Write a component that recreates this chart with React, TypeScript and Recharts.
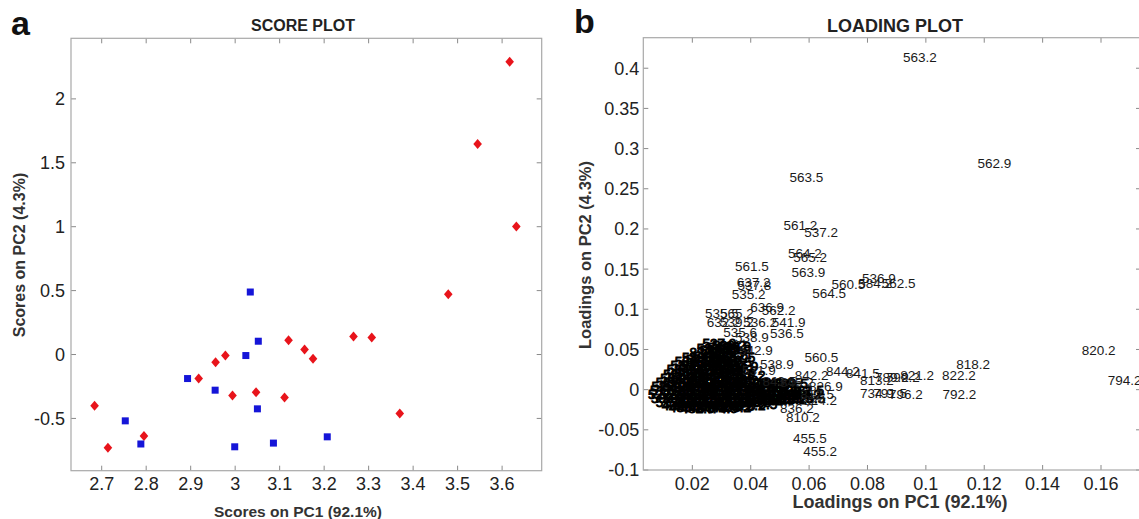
import React from "react";
import { ScatterChart, Scatter, XAxis, YAxis } from "recharts";

// ---------- Panel a: score plot ----------
const redScores: [number, number][] = [
  [3.617, 2.29], [3.545, 1.648], [3.632, 1.002], [3.479, 0.471],
  [3.266, 0.14], [3.307, 0.133], [3.12, 0.112], [3.156, 0.039],
  [3.175, -0.034], [2.978, -0.008], [2.956, -0.06], [2.918, -0.188],
  [2.994, -0.32], [3.047, -0.295], [3.111, -0.336], [3.37, -0.461],
  [2.684, -0.4], [2.714, -0.73], [2.795, -0.638],
];
const blueScores: [number, number][] = [
  [3.034, 0.489], [3.052, 0.104], [3.024, -0.008], [2.893, -0.188],
  [2.955, -0.279], [3.05, -0.425], [2.753, -0.519], [2.788, -0.7],
  [2.999, -0.722], [3.086, -0.693], [3.207, -0.644],
];
const scoreXTicks = [2.7, 2.8, 2.9, 3, 3.1, 3.2, 3.3, 3.4, 3.5, 3.6];
const scoreYTicks = [-0.5, 0, 0.5, 1, 1.5, 2];
const scoreXDomain: [number, number] = [2.631, 3.689];
const scoreYDomain: [number, number] = [-0.909, 2.474];

// ---------- Panel b: loading plot ----------
const loadingPeaks: [number, number, string][] = [
  [0.0922, 0.4137, "563.2"], [0.1177, 0.2825, "562.9"], [0.0533, 0.265, "563.5"],
  [0.0512, 0.2049, "561.2"], [0.0583, 0.1958, "537.2"], [0.0528, 0.17, "564.2"],
  [0.0546, 0.165, "565.2"], [0.0346, 0.1538, "561.5"], [0.054, 0.1467, "563.9"],
  [0.0677, 0.131, "560.5"], [0.0768, 0.132, "584.2"], [0.0781, 0.139, "536.9"],
  [0.0849, 0.132, "562.5"], [0.0611, 0.1198, "564.5"], [0.0352, 0.1335, "637.2"],
  [0.0355, 0.13, "537.8"], [0.0335, 0.1189, "535.2"], [0.0398, 0.1027, "636.9"],
  [0.0438, 0.099, "562.2"], [0.0243, 0.0949, "535.5"], [0.0295, 0.0949, "565.2"],
  [0.0249, 0.0844, "632.2"], [0.0295, 0.0844, "539.2"], [0.0374, 0.0844, "536.2"],
  [0.0472, 0.0844, "541.9"], [0.0306, 0.072, "535.6"], [0.0346, 0.065, "538.9"],
  [0.0466, 0.07, "536.5"], [0.036, 0.049, "542.9"], [0.037, 0.0245, "531.9"],
  [0.0432, 0.0318, "538.9"], [0.0584, 0.04, "560.5"],
  [0.0551, 0.018, "842.2"], [0.0658, 0.023, "844.2"], [0.0726, 0.0206, "841.5"],
  [0.0774, 0.0118, "813.2"], [0.0826, 0.016, "789.2"], [0.0863, 0.016, "799.2"],
  [0.0774, -0.0044, "734.9"], [0.082, -0.0044, "791.5"], [0.0874, -0.006, "796.2"],
  [0.057, -0.005, "812.5"], [0.0521, -0.0339, "810.2"], [0.05, -0.023, "836.2"],
  [0.0545, -0.0608, "455.5"], [0.058, -0.0766, "455.2"], [0.1104, 0.0314, "818.2"],
  [0.0912, 0.018, "821.2"], [0.1055, 0.018, "822.2"], [0.1057, -0.0056, "792.2"],
  [0.1534, 0.0492, "820.2"], [0.1623, 0.0118, "794.2"],
  [0.044, 0.011, "843.5"], [0.05, 0.009, "845.2"], [0.06, 0.004, "826.9"],
  [0.058, -0.013, "824.2"],
];
const loadingCluster: [number, number, string][] = [
  [0.0235, 0.058, "537.9"], [0.0268, 0.056, "538.2"],
  [0.0215, 0.052, "533.5"], [0.025, 0.053, "540.5"], [0.0285, 0.054, "539.9"],
  [0.019, 0.047, "832.2"], [0.0225, 0.049, "540.2"], [0.0262, 0.046, "539.5"], [0.0285, 0.05, "535.9"],
  [0.0165, 0.041, "533.9"], [0.02, 0.042, "541.8"], [0.024, 0.041, "534.5"], [0.0275, 0.043, "538.6"], [0.03, 0.04, "537.5"],
  [0.014, 0.036, "536.2"], [0.0178, 0.038, "541.2"], [0.0215, 0.035, "539.9"], [0.0255, 0.037, "540.9"], [0.0288, 0.034, "538.5"],
  [0.0125, 0.03, "530.2"], [0.016, 0.031, "542.2"], [0.02, 0.029, "633.9"], [0.024, 0.031, "543.9"], [0.0275, 0.03, "532.5"], [0.031, 0.029, "544.9"],
  [0.0112, 0.025, "534.2"], [0.015, 0.026, "633.2"], [0.0188, 0.024, "542.5"], [0.0228, 0.027, "541.5"], [0.0262, 0.024, "539.2"], [0.0292, 0.026, "634.9"],
  [0.01, 0.019, "528.5"], [0.014, 0.02, "545.9"], [0.018, 0.019, "546.5"], [0.022, 0.021, "635.2"], [0.026, 0.019, "547.9"], [0.03, 0.02, "528.9"], [0.0335, 0.018, "548.2"],
  [0.009, 0.014, "531.2"], [0.0128, 0.015, "543.2"], [0.0168, 0.013, "532.9"], [0.0205, 0.015, "544.2"], [0.0245, 0.013, "545.5"], [0.0285, 0.015, "531.9"], [0.031, 0.012, "546.2"],
  [0.0075, 0.009, "527.2"], [0.0115, 0.01, "549.2"], [0.0155, 0.008, "525.9"], [0.0195, 0.01, "550.9"], [0.0235, 0.008, "524.5"], [0.0275, 0.01, "551.2"], [0.0315, 0.008, "521.9"], [0.0355, 0.009, "552.9"], [0.0395, 0.008, "519.5"], [0.0435, 0.009, "841.9"], [0.048, 0.008, "839.5"],
  [0.006, 0.004, "529.2"], [0.0098, 0.005, "530.5"], [0.0138, 0.003, "547.2"], [0.0178, 0.005, "548.9"], [0.0218, 0.003, "526.2"], [0.0258, 0.005, "549.5"], [0.0298, 0.003, "527.9"], [0.0338, 0.004, "550.2"], [0.0378, 0.003, "551.9"], [0.0418, 0.005, "842.9"], [0.0458, 0.003, "552.5"],
  [0.0055, -0.001, "517.2"], [0.0095, 0.0, "553.9"], [0.0135, -0.002, "515.9"], [0.0175, 0.0, "554.2"], [0.0215, -0.002, "514.5"], [0.0255, 0.0, "555.9"], [0.0295, -0.002, "513.2"], [0.0335, 0.0, "556.2"], [0.0375, -0.002, "511.5"], [0.0415, 0.0, "837.5"], [0.0455, -0.002, "835.9"], [0.0495, -0.001, "833.2"], [0.0535, 0.0, "831.5"],
  [0.0048, -0.006, "522.2"], [0.0088, -0.005, "523.9"], [0.0128, -0.007, "553.2"], [0.0168, -0.005, "554.5"], [0.0208, -0.007, "520.9"], [0.0248, -0.005, "555.2"], [0.0288, -0.007, "518.2"], [0.0328, -0.005, "556.9"], [0.0368, -0.007, "516.5"], [0.0408, -0.005, "840.5"], [0.0448, -0.007, "838.2"], [0.0488, -0.005, "836.9"], [0.0525, -0.006, "834.2"],
  [0.0058, -0.011, "509.5"], [0.0098, -0.01, "557.2"], [0.0138, -0.012, "507.9"], [0.0178, -0.01, "557.9"], [0.0218, -0.012, "505.2"], [0.0258, -0.01, "558.5"], [0.0298, -0.012, "503.5"], [0.0338, -0.01, "559.2"], [0.0378, -0.012, "501.9"], [0.0418, -0.01, "830.2"], [0.0458, -0.01, "829.5"], [0.0498, -0.011, "827.9"], [0.054, -0.01, "825.5"],
  [0.0075, -0.015, "512.2"], [0.0115, -0.016, "510.9"], [0.0155, -0.014, "508.2"], [0.0195, -0.016, "506.5"], [0.0235, -0.015, "504.2"], [0.0275, -0.016, "502.9"], [0.0315, -0.014, "500.2"], [0.0355, -0.016, "498.5"], [0.0395, -0.013, "496.2"], [0.0435, -0.013, "494.9"], [0.0475, -0.012, "828.2"],
  [0.0095, -0.019, "492.2"], [0.0135, -0.02, "490.5"], [0.0175, -0.019, "488.9"], [0.0215, -0.02, "484.2"], [0.0255, -0.019, "480.9"], [0.0295, -0.02, "476.5"], [0.0335, -0.019, "472.2"], [0.0375, -0.018, "470.5"],
  [0.012, -0.022, "486.2"], [0.016, -0.023, "482.5"], [0.02, -0.022, "478.2"], [0.024, -0.023, "474.9"], [0.0285, -0.022, "456.2"],
];
const loadXTicks = [0.02, 0.04, 0.06, 0.08, 0.1, 0.12, 0.14, 0.16];
const loadYTicks = [-0.1, -0.05, 0, 0.05, 0.1, 0.15, 0.2, 0.25, 0.3, 0.35, 0.4];
const loadXDomain: [number, number] = [0.0032, 0.1737];
const loadYDomain: [number, number] = [-0.1, 0.438];

const FONT = '"Liberation Sans", Arial, sans-serif';
const FRAME = "#a8a8a8";
const TICK = "#8a8a8a";

const toXY = (arr: [number, number][]) => arr.map(([x, y]) => ({ x, y }));
const toLabeled = (arr: [number, number, string][]) => arr.map(([x, y, label]) => ({ x, y, label }));

const Diamond = (p: any) => {
  const { cx, cy } = p;
  return <polygon points={`${cx},${cy - 5} ${cx + 4.3},${cy} ${cx},${cy + 5} ${cx - 4.3},${cy}`} fill="#e8141b" />;
};
const Square = (p: any) => {
  const { cx, cy } = p;
  return <rect x={cx - 3.5} y={cy - 3.5} width={7} height={7} fill="#1515d8" />;
};
const PeakLabel = (p: any) => {
  const { cx, cy, payload } = p;
  return (
    <text x={cx} y={cy} dy="0.36em" fontSize={13.5} fill="#1a1a1a" fontFamily={FONT}>
      {payload.label}
    </text>
  );
};
const ClusterLabel = (p: any) => {
  const { cx, cy, payload } = p;
  return (
    <text x={cx} y={cy} dy="0.36em" fontSize={13.5} fill="#000" stroke="#000" strokeWidth={0.9} fontFamily={FONT}>
      {payload.label}
    </text>
  );
};

// inward ticks on both opposite sides (MATLAB box style)
const makeXTick = (bottomY: number, topY: number) => (p: any) => {
  const { x, y, payload } = p;
  return (
    <g>
      <line x1={x} x2={x} y1={bottomY} y2={bottomY - 5} stroke={TICK} />
      <line x1={x} x2={x} y1={topY} y2={topY + 5} stroke={TICK} />
      <text x={x} y={y} dy="0.71em" textAnchor="middle" fontSize={18} fill="#222" fontFamily={FONT}>
        {String(payload.value)}
      </text>
    </g>
  );
};
const makeYTick = (leftX: number, rightX: number) => (p: any) => {
  const { x, y, payload } = p;
  return (
    <g>
      <line x1={leftX} x2={leftX + 5} y1={y} y2={y} stroke={TICK} />
      <line x1={rightX} x2={rightX - 5} y1={y} y2={y} stroke={TICK} />
      <text x={x} y={y} dy="0.36em" textAnchor="end" fontSize={18} fill="#222" fontFamily={FONT}>
        {String(payload.value)}
      </text>
    </g>
  );
};

export default function App() {
  return (
    <div style={{ position: "absolute", left: 0, top: 0, width: 1139, height: 519, overflow: "hidden", background: "#fff", fontFamily: FONT }}>
      <div style={{ position: "absolute", left: 0, top: 0 }}>
        <ScatterChart width={560} height={519} margin={{ top: 38.3, right: 18.3, bottom: 0, left: 0 }}>
          <XAxis dataKey="x" type="number" domain={scoreXDomain} allowDataOverflow ticks={scoreXTicks} interval={0}
            height={48.3} tickSize={0} tickMargin={7} axisLine={false} tickLine={false} tick={makeXTick(470.7, 38.3)} />
          <YAxis dataKey="y" type="number" domain={scoreYDomain} allowDataOverflow ticks={scoreYTicks} interval={0}
            width={71} tickSize={0} tickMargin={6} axisLine={false} tickLine={false} tick={makeYTick(71, 541.7)} />
          <Scatter data={toXY(redScores)} shape={Diamond} isAnimationActive={false} />
          <Scatter data={toXY(blueScores)} shape={Square} isAnimationActive={false} />
        </ScatterChart>
      </div>
      <div style={{ position: "absolute", left: 570, top: 0 }}>
        <ScatterChart width={590} height={519} margin={{ top: 37.7, right: 19, bottom: 0, left: 0 }}>
          <XAxis dataKey="x" type="number" domain={loadXDomain} allowDataOverflow ticks={loadXTicks} interval={0}
            height={49} tickSize={0} tickMargin={7} axisLine={false} tickLine={false} tick={makeXTick(470, 37.7)} />
          <YAxis dataKey="y" type="number" domain={loadYDomain} allowDataOverflow ticks={loadYTicks} interval={0}
            width={73.3} tickSize={0} tickMargin={4} axisLine={false} tickLine={false} tick={makeYTick(73.3, 571)} />
          <Scatter data={toLabeled(loadingCluster)} shape={ClusterLabel} isAnimationActive={false} />
          <Scatter data={toLabeled(loadingPeaks)} shape={PeakLabel} isAnimationActive={false} />
        </ScatterChart>
      </div>
      <svg width={1139} height={519} style={{ position: "absolute", left: 0, top: 0, pointerEvents: "none" }} fontFamily={FONT}>
        <rect x={71} y={38.3} width={470.7} height={432.4} fill="none" stroke={FRAME} strokeWidth={1.2} />
        <rect x={643.3} y={37.7} width={497.7} height={432.3} fill="none" stroke={FRAME} strokeWidth={1.2} />
        <text x={11} y={35} fontSize={34} fontWeight="bold" fill="#111">a</text>
        <text x={574} y={33} fontSize={34} fontWeight="bold" fill="#111">b</text>
        <text x={303} y={31} fontSize={16} fontWeight="bold" fill="#222" textAnchor="middle">SCORE PLOT</text>
        <text x={895} y={32} fontSize={18} fontWeight="bold" fill="#222" textAnchor="middle">LOADING PLOT</text>
        <text x={298} y={517} fontSize={15.5} fontWeight="bold" fill="#333" textAnchor="middle">Scores on PC1 (92.1%)</text>
        <text x={900} y={508} fontSize={18} fontWeight="bold" fill="#333" textAnchor="middle">Loadings on PC1 (92.1%)</text>
        <text x={0} y={0} fontSize={16} fontWeight="bold" fill="#333" textAnchor="middle" dy="0.36em"
          transform="translate(19,255) rotate(-90)">Scores on PC2 (4.3%)</text>
        <text x={0} y={0} fontSize={16.5} fontWeight="bold" fill="#333" textAnchor="middle" dy="0.36em"
          transform="translate(585.5,255) rotate(-90)">Loadings on PC2 (4.3%)</text>
      </svg>
    </div>
  );
}
